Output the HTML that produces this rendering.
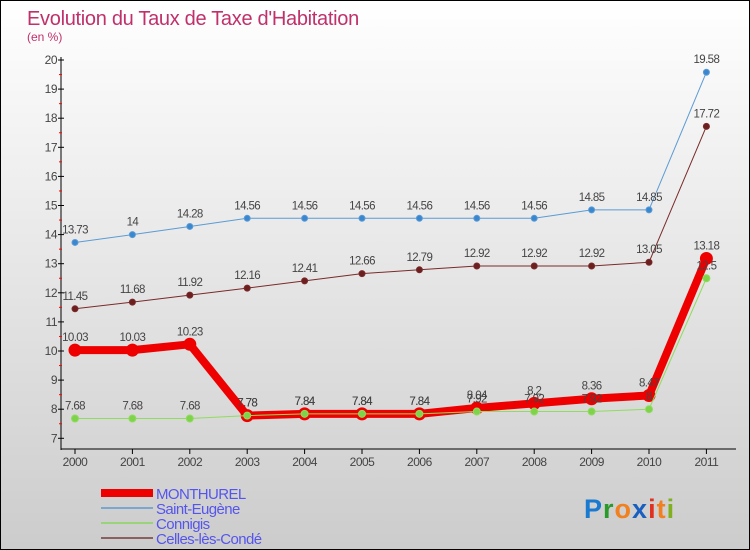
<!DOCTYPE html>
<html><head><meta charset="utf-8"><style>
html,body{margin:0;padding:0}
body{width:750px;height:550px;overflow:hidden;font-family:"Liberation Sans",sans-serif}
#wrap{position:relative;width:748px;height:548px;border:1px solid #000;background:linear-gradient(#fff,#ccc)}
</style></head><body>
<div id="wrap">
<svg id="chart" width="748" height="548" style="position:absolute;left:0;top:0"></svg>
</div>
<script>
const years=[2000,2001,2002,2003,2004,2005,2006,2007,2008,2009,2010,2011];
const monthurel=[10.03,10.03,10.23,7.78,7.84,7.84,7.84,8.04,8.2,8.36,8.47,13.18];
const saintEugene=[13.73,14,14.28,14.56,14.56,14.56,14.56,14.56,14.56,14.85,14.85,19.58];
const connigis=[7.68,7.68,7.68,7.78,7.84,7.84,7.84,7.92,7.92,7.92,8,12.5];
const celles=[11.45,11.68,11.92,12.16,12.41,12.66,12.79,12.92,12.92,12.92,13.05,17.72];
const yTicks=[7,8,9,10,11,12,13,14,15,16,17,18,19,20];
const svg=document.getElementById('chart');
const NS='http://www.w3.org/2000/svg';
function x(i){return 74+i*57.4;}
function y(v){return 59+(20-v)*29.1;}
function mk(t,a,p){const e=document.createElementNS(NS,t);for(const k in a)e.setAttribute(k,a[k]);(p||svg).appendChild(e);return e;}
let t=mk('text',{x:26,y:24,fill:'#c0306a','font-size':20,'letter-spacing':'-0.3'});t.textContent="Evolution du Taux de Taxe d'Habitation";

t=mk('text',{x:26,y:40,fill:'#c0306a','font-size':12});t.textContent="(en %)";

let ax=mk('line',{x1:60,y1:56,x2:60,y2:449,stroke:'#000'});

ax=mk('line',{x1:60,y1:448,x2:735,y2:448,stroke:'#000'});

yTicks.forEach(v=>{mk('line',{x1:57,x2:63,y1:y(v),y2:y(v),stroke:'#000'});
 if(v<20)mk('line',{x1:58,x2:61,y1:y(v+0.5),y2:y(v+0.5),stroke:'red'});
 const l=mk('text',{x:56,y:y(v)+4,'text-anchor':'end','font-size':12,fill:'#444','letter-spacing':'-0.5'});l.textContent=v;
 });
years.forEach((yr,i)=>{mk('line',{x1:x(i),x2:x(i),y1:448,y2:453,stroke:'#000'});
 const l=mk('text',{x:x(i),y:465,'text-anchor':'middle','font-size':12,fill:'#444','letter-spacing':'-0.5'});l.textContent=yr;
 });
function series(data,color,w,r,dot,name){
 const g=mk('g',{});
 mk('polyline',{points:data.map((v,i)=>x(i)+','+y(v)).join(' '),fill:'none',stroke:color,'stroke-width':w,'stroke-linejoin':'round'},g);
 data.forEach((v,i)=>{const c=mk('circle',{cx:x(i),cy:y(v),r:r,fill:dot,stroke:color,'stroke-width':1},g);
  
  const l=mk('text',{x:x(i),y:y(v)-9,'text-anchor':'middle','font-size':11.5,fill:'#444','letter-spacing':'-0.6'},g);l.textContent=v;});
}
series(saintEugene,'#5b9bd5',1,3,'#3a87d0','saint-eugene-series');
series(celles,'#7a2a2a',1,3,'#6b1f1f','celles-series');
series(monthurel,'#ee0000',8,6,'#ee0000','monthurel-series');
series(connigis,'#8fdc5e',1,3.5,'#7ed34a','connigis-series');
const leg=[['MONTHUREL','#ee0000',8],['Saint-Eugène','#7ba7cf',2],['Connigis','#9ad47a',2],['Celles-lès-Condé','#8a6060',2]];
leg.forEach((d,i)=>{const g=mk('g',{});
 const yy=492+i*15;mk('line',{x1:100,x2:152,y1:yy,y2:yy,stroke:d[1],'stroke-width':d[2]},g);
 const l=mk('text',{x:155,y:yy+6,'font-size':15,fill:'#5555ee','letter-spacing':'-0.6'},g);l.textContent=d[0];});
const lg=mk('text',{x:583,y:517,'font-size':27,'font-weight':'bold','letter-spacing':'1'});

[['P','#1a7ad0'],['r','#2a9a2a'],['o','#f08020'],['x','#1a5fc0'],['i','#e03020'],['t','#f08020'],['i','#80b020']].forEach(c=>{const s=mk('tspan',{fill:c[1]},lg);s.textContent=c[0];});
</script>
</body></html>
